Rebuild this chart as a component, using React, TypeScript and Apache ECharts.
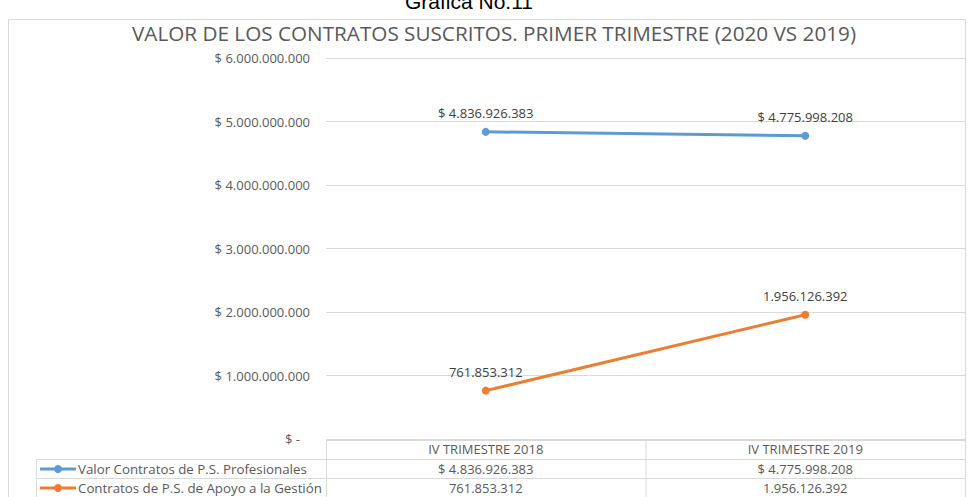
import React, { useEffect, useRef } from "react";
import * as echarts from "echarts";

const categories = ["IV TRIMESTRE 2018", "IV TRIMESTRE 2019"];
const seriesNames = [
  "Valor Contratos de P.S. Profesionales",
  "Contratos de P.S. de Apoyo a la Gestión",
];
const profesionales = [4836926383, 4775998208];
const apoyo = [761853312, 1956126392];
const prefixes = ["$ ", ""];
const colors = ["#5b9bd5", "#ed7d31"];
const yMin = 0;
const yMax = 6000000000;
const yInterval = 1000000000;

const W = 969;
const H = 497;
const GRID_L = 326;
const GRID_R = 965;
const GRID_T = 58;
const GRID_B = 439;
const ROW_H = 19;
const TABLE_L = 36;
const FONT = "'Open Sans', 'Noto Sans', sans-serif";
const TXT = "#595959";
const LINE = "#d9d9d9";

function fmt(n: number): string {
  return Math.round(n)
    .toString()
    .replace(/\B(?=(\d{3})+(?!\d))/g, ".");
}

export default function App() {
  const ref = useRef<HTMLDivElement>(null);
  useEffect(() => {
    if (!ref.current) return;
    const chart = echarts.init(ref.current, undefined, { renderer: "svg" });
    const allSeries = [profesionales, apoyo];
    const option: any = {
      animation: false,
      backgroundColor: "#ffffff",
      grid: {
        left: GRID_L,
        right: W - GRID_R,
        top: GRID_T,
        bottom: H - GRID_B,
        containLabel: false,
      },
      xAxis: {
        type: "category",
        data: categories,
        boundaryGap: true,
        axisLine: { show: false },
        axisTick: { show: false },
        axisLabel: {
          show: true,
          margin: 3,
          verticalAlign: "top",
          fontFamily: FONT,
          fontSize: 13,
          color: TXT,
        },
        splitLine: { show: false },
      },
      yAxis: {
        type: "value",
        min: yMin,
        max: yMax,
        interval: yInterval,
        axisLine: { show: false },
        axisTick: { show: false },
        splitLine: { lineStyle: { color: LINE, width: 1 } },
        axisLabel: {
          margin: 16,
          fontFamily: FONT,
          fontSize: 13,
          color: TXT,
          formatter: (v: number) => (v === 0 ? "$ -   " : "$ " + fmt(v)),
        },
      },
      series: allSeries.map((d, i) => ({
        name: seriesNames[i],
        type: "line",
        data: d,
        symbol: "circle",
        symbolSize: 8,
        lineStyle: { color: colors[i], width: 3 },
        itemStyle: { color: colors[i] },
        label: {
          show: true,
          position: "top",
          distance: 8,
          fontFamily: FONT,
          fontSize: 13,
          color: "#404040",
          formatter: (p: any) => prefixes[i] + fmt(p.value),
        },
      })),
    };
    chart.setOption(option);

    const centers = categories.map((_, j) => chart.convertToPixel({ xAxisIndex: 0 }, j) as number);
    const cellW = (GRID_R - GRID_L) / categories.length;
    const g: any[] = [];
    g.push({
      type: "rect",
      shape: { x: 8.5, y: 19.5, width: 957, height: 490 },
      style: { fill: "none", stroke: LINE, lineWidth: 1 },
      silent: true,
    });
    g.push({
      type: "text",
      x: 469,
      y: 12,
      style: {
        text: "Gráfica No.11",
        font: "21px 'Liberation Sans', Arial, sans-serif",
        fill: "#000000",
        textAlign: "center",
        textVerticalAlign: "bottom",
      },
    });
    g.push({
      type: "text",
      x: 494,
      y: 33,
      style: {
        text: "VALOR DE LOS CONTRATOS SUSCRITOS. PRIMER TRIMESTRE (2020 VS 2019)",
        font: "20.7px " + FONT,
        fill: TXT,
        textAlign: "center",
        textVerticalAlign: "middle",
      },
    });
    const hl = (x1: number, x2: number, y: number) =>
      g.push({ type: "line", shape: { x1, y1: y + 0.5, x2, y2: y + 0.5 }, style: { stroke: LINE, lineWidth: 1 }, silent: true });
    const vl = (x: number, y1: number, y2: number) =>
      g.push({ type: "line", shape: { x1: x + 0.5, y1, x2: x + 0.5, y2 }, style: { stroke: LINE, lineWidth: 1 }, silent: true });
    const y0 = GRID_B + 1;
    hl(GRID_L, GRID_R, y0);
    for (let r = 1; r <= seriesNames.length; r++) hl(TABLE_L, GRID_R, y0 + r * ROW_H);
    const yEnd = y0 + (seriesNames.length + 1) * ROW_H;
    vl(TABLE_L, y0 + ROW_H, yEnd);
    for (let j = 0; j <= categories.length; j++) vl(GRID_L + j * cellW, y0, yEnd);

    seriesNames.forEach((name, i) => {
      const yc = y0 + (i + 1) * ROW_H + ROW_H / 2 + 0.5;
      g.push({
        type: "line",
        shape: { x1: 40, y1: yc, x2: 76, y2: yc },
        style: { stroke: colors[i], lineWidth: 3 },
        silent: true,
      });
      g.push({ type: "circle", shape: { cx: 58, cy: yc, r: 4 }, style: { fill: colors[i] }, silent: true });
      g.push({
        type: "text",
        x: 78,
        y: yc,
        style: {
          text: name,
          font: "13.3px " + FONT,
          fill: TXT,
          textAlign: "left",
          textVerticalAlign: "middle",
        },
      });
      allSeries[i].forEach((v, j) => {
        g.push({
          type: "text",
          x: centers[j],
          y: yc,
          style: {
            text: prefixes[i] + fmt(v),
            font: "13px " + FONT,
            fill: TXT,
            textAlign: "center",
            textVerticalAlign: "middle",
          },
        });
      });
    });
    chart.setOption({ graphic: g });
    return () => chart.dispose();
  }, []);
  return (
    <div
      ref={ref}
      style={{ position: "fixed", left: 0, top: 0, width: W, height: H }}
    />
  );
}
